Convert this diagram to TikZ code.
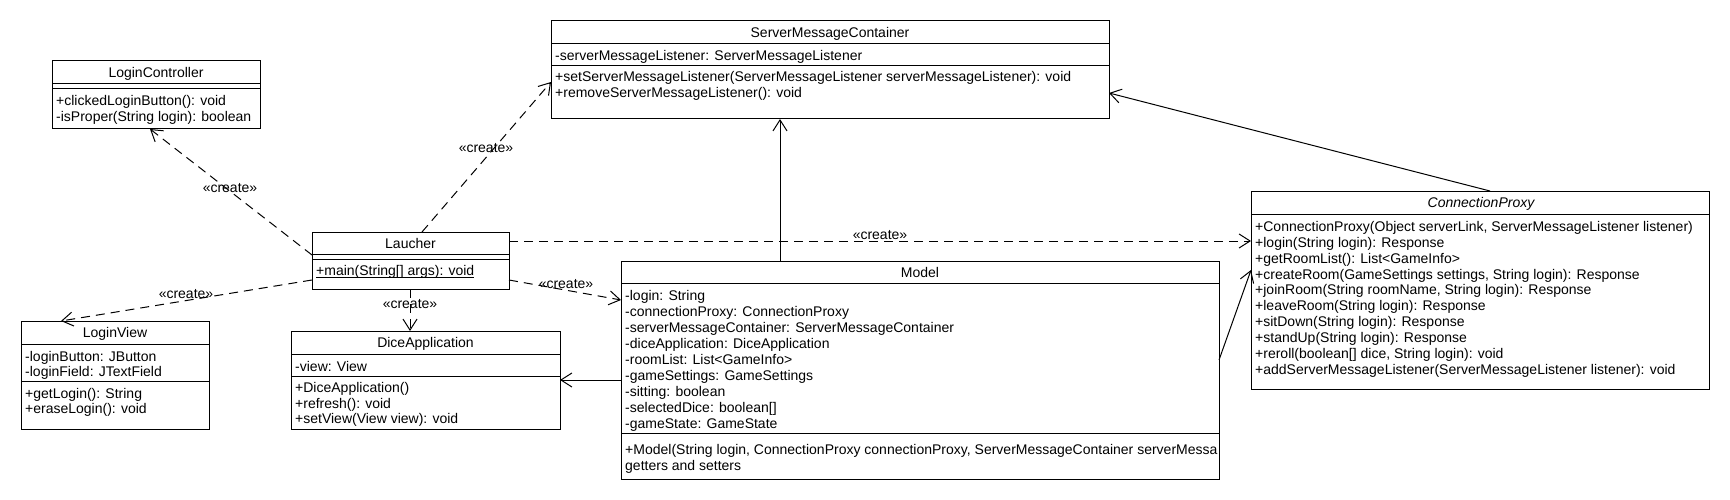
\documentclass[tikz,border=0pt]{standalone}
\usepackage{fontspec}
\setmainfont{Liberation Sans}
\usetikzlibrary{arrows.meta,calc}
\newcommand\umlsize{\fontsize{14pt}{16pt}\selectfont}
\begin{document}
\begin{tikzpicture}[x=1pt,y=-1pt,
  box/.style={draw, line width=1pt, anchor=north west, inner sep=0pt, outer sep=0pt},
  ttl/.style={font=\umlsize, anchor=base, inner sep=0pt},
  ln/.style={font=\umlsize, anchor=base west, inner sep=0pt},
  lbl/.style={font=\umlsize, anchor=base, inner sep=0pt},
  sepline/.style={line width=1pt},
  create/.style={line width=1pt, dash pattern=on 9pt off 6pt, -{Straight Barb[length=11pt,width=14pt,line width=1pt]}},
  assoc/.style={line width=1pt, -{Straight Barb[length=11pt,width=14pt,line width=1pt]}}
]
\fill[white] (0,0) rectangle (1730,500);
\useasboundingbox (0,0) rectangle (1730,500);

% LoginController
\node[box, minimum width=208pt, minimum height=68pt] (lc) at (52,61) {};
\node[ttl] (lct) at (156,77.5) {LoginController};
\draw[sepline] (lc.west |- 0,84) -- (lc.east |- 0,84);
\draw[sepline] (lc.west |- 0,89) -- (lc.east |- 0,89);
\node[ln] (lc1) at (56,105.5) {+clickedLoginButton(): void};
\node[ln] (lc2) at (56,121.5) {-isProper(String login): boolean};

% Laucher
\node[box, minimum width=197pt, minimum height=57pt] (la) at (312,232) {};
\node[ttl] (lat) at (410.5,248) {Laucher};
\draw[sepline] (la.west |- 0,254) -- (la.east |- 0,254);
\draw[sepline] (la.west |- 0,259) -- (la.east |- 0,259);
\node[ln] (la1) at (316,275.5) {\underline{\smash{+main(String[] args): void}}};

% LoginView
\node[box, minimum width=188pt, minimum height=108pt] (lv) at (21,321) {};
\node[ttl] (lvt) at (115,337.5) {LoginView};
\draw[sepline] (lv.west |- 0,344) -- (lv.east |- 0,344);
\draw[sepline] (lv.west |- 0,381) -- (lv.east |- 0,381);
\node[ln] (lv1) at (25,361) {-loginButton: JButton};
\node[ln] (lv2) at (25,376.5) {-loginField: JTextField};
\node[ln] (lv3) at (25,398) {+getLogin(): String};
\node[ln] (lv4) at (25,413.5) {+eraseLogin(): void};

% DiceApplication
\node[box, minimum width=269pt, minimum height=98pt] (da) at (291,331) {};
\node[ttl] (dat) at (425.5,347.5) {DiceApplication};
\draw[sepline] (da.west |- 0,354) -- (da.east |- 0,354);
\draw[sepline] (da.west |- 0,376) -- (da.east |- 0,376);
\node[ln] (da1) at (295,371) {-view: View};
\node[ln] (da2) at (295,392) {+DiceApplication()};
\node[ln] (da3) at (295,408) {+refresh(): void};
\node[ln] (da4) at (295,423.5) {+setView(View view): void};

% ServerMessageContainer
\node[box, minimum width=558pt, minimum height=98pt] (smc) at (551,21) {};
\node[ttl] (smct) at (830,37.5) {ServerMessageContainer};
\draw[sepline] (smc.west |- 0,44) -- (smc.east |- 0,44);
\draw[sepline] (smc.west |- 0,66) -- (smc.east |- 0,66);
\node[ln] (smc1) at (555,61) {-serverMessageListener: ServerMessageListener};
\node[ln] (smc2) at (555,81.5) {+setServerMessageListener(ServerMessageListener serverMessageListener): void};
\node[ln] (smc3) at (555,97.5) {+removeServerMessageListener(): void};

% Model
\node[box, minimum width=598pt, minimum height=218pt] (model) at (621,261) {};
\node[ttl] (modelt) at (920,277) {Model};
\draw[sepline] (model.west |- 0,283) -- (model.east |- 0,283);
\draw[sepline] (model.west |- 0,433) -- (model.east |- 0,433);
\node[ln] (m1) at (625,300.5) {-login: String};
\node[ln] (m2) at (625,316.5) {-connectionProxy: ConnectionProxy};
\node[ln] (m3) at (625,332.5) {-serverMessageContainer: ServerMessageContainer};
\node[ln] (m4) at (625,348.5) {-diceApplication: DiceApplication};
\node[ln] (m5) at (625,364.5) {-roomList: List<GameInfo>};
\node[ln] (m6) at (625,380.5) {-gameSettings: GameSettings};
\node[ln] (m7) at (625,396.5) {-sitting: boolean};
\node[ln] (m8) at (625,412.5) {-selectedDice: boolean[]};
\node[ln] (m9) at (625,428.5) {-gameState: GameState};
\begin{scope}
\clip (model.north west) rectangle (model.south east);
\node[ln] (m10) at (625,454) {+Model(String login, ConnectionProxy connectionProxy, ServerMessageContainer serverMessa};
\end{scope}
\node[ln] (m11) at (625,470) {getters and setters};

% ConnectionProxy
\node[box, minimum width=458pt, minimum height=198pt] (cp) at (1251,191) {};
\node[ttl] (cpt) at (1481,207.5) {\itshape ConnectionProxy};
\draw[sepline] (cp.west |- 0,214) -- (cp.east |- 0,214);
\node[ln] (cp1) at (1255,231) {+ConnectionProxy(Object serverLink, ServerMessageListener listener)};
\node[ln] (cp2) at (1255,247) {+login(String login): Response};
\node[ln] (cp3) at (1255,263) {+getRoomList(): List<GameInfo>};
\node[ln] (cp4) at (1255,279) {+createRoom(GameSettings settings, String login): Response};
\node[ln] (cp5) at (1255,294.5) {+joinRoom(String roomName, String login): Response};
\node[ln] (cp6) at (1255,310.5) {+leaveRoom(String login): Response};
\node[ln] (cp7) at (1255,326) {+sitDown(String login): Response};
\node[ln] (cp8) at (1255,342) {+standUp(String login): Response};
\node[ln] (cp9) at (1255,358) {+reroll(boolean[] dice, String login): void};
\node[ln] (cp10) at (1255,374) {+addServerMessageListener(ServerMessageListener listener): void};

% create dependencies
\draw[create] ($(la.north west)+(0,23)$) -- ($(lc.south west)+(98,0)$);
\draw[create] ($(la.north west)+(110,0)$) -- ($(smc.north west)+(0,61)$);
\draw[create] ($(la.north west)+(0,48)$) -- ($(lv.north west)+(40,0)$);
\draw[create] ($(la.south west)+(98,0)$) -- ($(da.north west)+(119,0)$);
\draw[create] ($(la.north east)+(0,48)$) -- ($(model.north west)+(0,39)$);
\draw[create] ($(la.north east)+(0,9)$) -- ($(cp.north west)+(0,50)$);
\node[lbl] (l1) at (230,193) {«create»};
\node[lbl] (l2) at (486,153) {«create»};
\node[lbl] (l3) at (186,298) {«create»};
\node[lbl] (l4) at (410,308) {«create»};
\node[lbl] (l5) at (566,288) {«create»};
\node[lbl] (l6) at (880,239) {«create»};

% associations
\draw[assoc] ($(model.north west)+(159,0)$) -- ($(smc.south west)+(229,0)$);
\draw[assoc] ($(model.north west)+(0,119)$) -- ($(da.north east)+(0,49)$);
\draw[assoc] ($(model.north east)+(0,99)$) -- ($(cp.north west)+(0,79)$);
\draw[assoc] ($(cp.north west)+(239,0)$) -- ($(smc.north east)+(0,72)$);
\end{tikzpicture}
\end{document}
